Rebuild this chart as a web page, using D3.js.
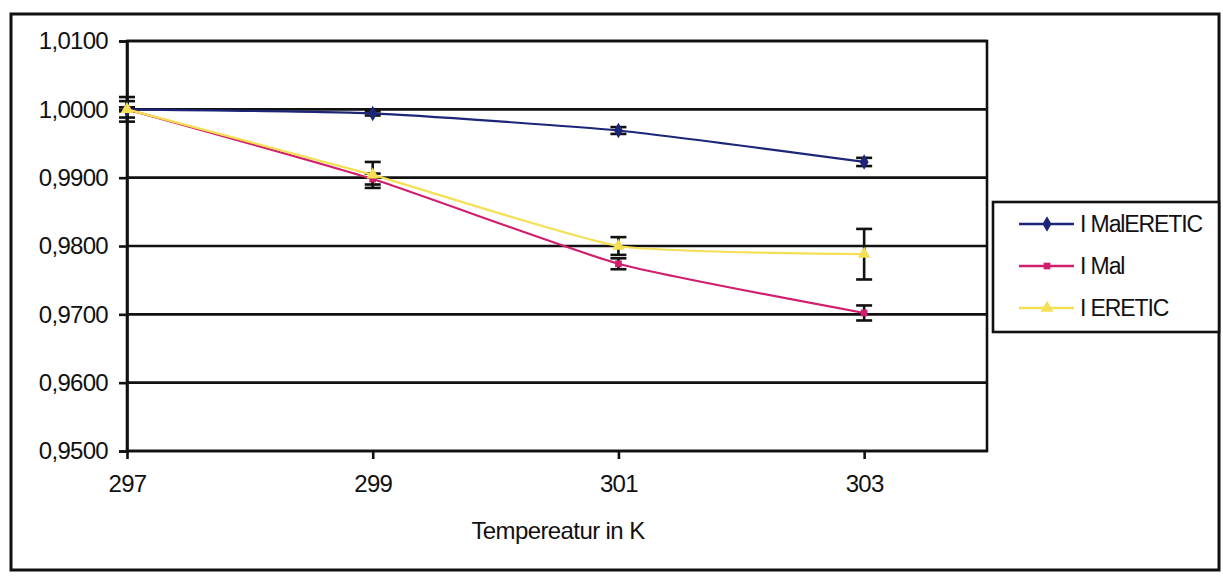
<!DOCTYPE html>
<html>
<head>
<meta charset="utf-8">
<script src="https://cdn.jsdelivr.net/npm/d3@7"></script>
<style>
  body { margin: 0; background: #fff; }
  text { font-family: "Liberation Sans", Arial, sans-serif; fill: #111; }
</style>
</head>
<body>
<svg id="chart" width="1223" height="580"></svg>
<script>
// Temperatures (K) and normalised intensities with standard deviations
const temperatures = [297, 299, 301, 303];
const seriesNames = ["I MalERETIC", "I Mal", "I ERETIC"];
const malEretic    = [1.0000, 0.9994, 0.9969, 0.9923];
const malEreticErr = [0.0003, 0.0003, 0.0005, 0.0006];
const mal          = [1.0000, 0.9898, 0.9774, 0.9702];
const malErr       = [0.0012, 0.0008, 0.0008, 0.0011];
const eretic       = [1.0000, 0.9904, 0.9800, 0.9788];
const ereticErr    = [0.0018, 0.0019, 0.0013, 0.0037];
const yTicks = [0.95, 0.96, 0.97, 0.98, 0.99, 1.00, 1.01];
const xTicks = [297, 299, 301, 303];
const xLabel = "Tempereatur in K";

const colors = ["#1c2577", "#d11f6e", "#f4df55"];
const markers = [d3.symbolDiamond, d3.symbolSquare, d3.symbolTriangle];
const markerSizes = [70, 45, 70];

const series = [
  { name: seriesNames[0], values: malEretic, errors: malEreticErr },
  { name: seriesNames[1], values: mal, errors: malErr },
  { name: seriesNames[2], values: eretic, errors: ereticErr }
].map((s, i) => ({
  ...s,
  color: colors[i],
  marker: markers[i],
  size: markerSizes[i],
  points: temperatures.map((t, j) => ({ t, v: s.values[j], e: s.errors[j] }))
}));

const svg = d3.select("#chart");
const plot = { left: 127, right: 987, top: 41, bottom: 451 };

const x = d3.scaleLinear().domain([297, 304]).range([plot.left, plot.right]);
const y = d3.scaleLinear().domain([0.95, 1.01]).range([plot.bottom, plot.top]);

// Outer chart frame
svg.append("rect")
  .attr("x", 11).attr("y", 14).attr("width", 1208).attr("height", 556)
  .attr("fill", "none").attr("stroke", "#111").attr("stroke-width", 3);

// Horizontal gridlines
svg.append("g").selectAll("line").data(yTicks).join("line")
  .attr("x1", plot.left).attr("x2", plot.right)
  .attr("y1", d => y(d)).attr("y2", d => y(d))
  .attr("stroke", "#111").attr("stroke-width", 2.6);

// Plot area border
svg.append("rect")
  .attr("x", plot.left).attr("y", plot.top)
  .attr("width", plot.right - plot.left).attr("height", plot.bottom - plot.top)
  .attr("fill", "none").attr("stroke", "#111").attr("stroke-width", 2.6);

// Y axis
const yAxis = svg.append("g")
  .attr("transform", `translate(${plot.left},0)`)
  .call(d3.axisLeft(y).tickValues(yTicks).tickSize(8).tickPadding(11)
    .tickFormat(d => d.toFixed(4).replace(".", ",")));
yAxis.select(".domain").attr("stroke", "#111").attr("stroke-width", 2.6);
yAxis.selectAll(".tick line").attr("stroke", "#111").attr("stroke-width", 2.6);
yAxis.selectAll(".tick text")
  .style("font-size", "24px").style("letter-spacing", "-0.7px").attr("fill", "#111");

// X axis
const xAxis = svg.append("g")
  .attr("transform", `translate(0,${plot.bottom})`)
  .call(d3.axisBottom(x).tickValues(xTicks).tickSize(8).tickPadding(16)
    .tickFormat(d3.format("d")));
xAxis.select(".domain").remove();
xAxis.selectAll(".tick line").attr("stroke", "#111").attr("stroke-width", 2.6);
xAxis.selectAll(".tick text")
  .style("font-size", "24px").style("letter-spacing", "-0.7px").attr("fill", "#111");

// Axis title
svg.append("text")
  .attr("x", 558).attr("y", 539)
  .attr("text-anchor", "middle")
  .style("font-size", "24px").style("letter-spacing", "-0.6px")
  .text(xLabel);

// Error bars
const capHalf = 8;
const errG = svg.append("g");
series.forEach(s => {
  const g = errG.append("g");
  g.selectAll("line.stem").data(s.points).join("line").attr("class", "stem")
    .attr("x1", d => x(d.t)).attr("x2", d => x(d.t))
    .attr("y1", d => y(d.v + d.e)).attr("y2", d => y(d.v - d.e))
    .attr("stroke", "#111").attr("stroke-width", 2.6);
  g.selectAll("line.cap-top").data(s.points).join("line").attr("class", "cap-top")
    .attr("x1", d => x(d.t) - capHalf).attr("x2", d => x(d.t) + capHalf)
    .attr("y1", d => y(d.v + d.e)).attr("y2", d => y(d.v + d.e))
    .attr("stroke", "#111").attr("stroke-width", 2.6);
  g.selectAll("line.cap-bottom").data(s.points).join("line").attr("class", "cap-bottom")
    .attr("x1", d => x(d.t) - capHalf).attr("x2", d => x(d.t) + capHalf)
    .attr("y1", d => y(d.v - d.e)).attr("y2", d => y(d.v - d.e))
    .attr("stroke", "#111").attr("stroke-width", 2.6);
});

// Lightly smoothed series lines
const line = d3.line()
  .x(d => x(d.t)).y(d => y(d.v))
  .curve(d3.curveCardinal.tension(0.5));

series.forEach(s => {
  svg.append("path")
    .datum(s.points)
    .attr("d", line)
    .attr("fill", "none")
    .attr("stroke", s.color)
    .attr("stroke-width", 2.2);
});

// Markers
series.forEach(s => {
  svg.append("g").selectAll("path").data(s.points).join("path")
    .attr("transform", d => `translate(${x(d.t)},${y(d.v)})`)
    .attr("d", d3.symbol().type(s.marker).size(s.size))
    .attr("fill", s.color);
});

// Legend
const legend = svg.append("g");
legend.append("rect")
  .attr("x", 993).attr("y", 202).attr("width", 226).attr("height", 130)
  .attr("fill", "#fff").attr("stroke", "#111").attr("stroke-width", 2.6);

const legendRows = [224, 266, 308];
series.forEach((s, i) => {
  const ly = legendRows[i];
  legend.append("line")
    .attr("x1", 1019).attr("x2", 1074).attr("y1", ly).attr("y2", ly)
    .attr("stroke", s.color).attr("stroke-width", 2.4);
  legend.append("path")
    .attr("transform", `translate(1047,${ly})`)
    .attr("d", d3.symbol().type(s.marker).size(s.size))
    .attr("fill", s.color);
  legend.append("text")
    .attr("x", 1080).attr("y", ly).attr("dy", "0.36em")
    .style("font-size", "23px").style("letter-spacing", "-1.1px")
    .text(s.name);
});
</script>
</body>
</html>
